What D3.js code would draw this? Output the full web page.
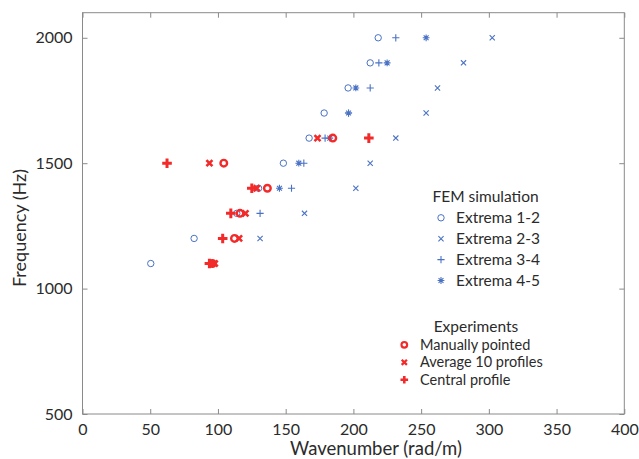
<!DOCTYPE html>
<html><head><meta charset="utf-8">
<script src="https://cdn.jsdelivr.net/npm/d3@7"></script>
<style>
html,body{margin:0;padding:0;background:#fff;}
svg{display:block;font-family:Lato, "Open Sans", sans-serif;}
</style></head>
<body>
<svg id="chart" width="639" height="459"></svg>
<script>
// ---- data ----
const freqFEM = [1100,1200,1300,1400,1500,1600,1700,1800,1900,2000];
const ext12 = [50.4,82.4,113.9,130,148.3,167.3,178.4,196.1,212.4,218.3];
const freqExt23 = [1200,1300,1400,1500,1600,1700,1800,1900,2000];
const ext23 = [131.1,163.9,201.8,212.4,231.3,253.7,262.1,281.3,302.5];
const freqExt34 = [1300,1400,1500,1600,1700,1800,1900,2000];
const ext34 = [131.1,154.3,163.4,179.1,196.4,212.4,218.8,231.3];
const freqExt45 = [1400,1500,1600,1700,1800,1900,2000];
const ext45 = [145.4,159.7,182.6,196.4,201.8,224.9,253.7];
const freqExp = [1100,1200,1300,1400,1500,1600];
const manual = [95.9,112.2,116.3,136.5,104.3,184.8];
const avg10 = [97.6,115.6,120.3,128.6,93.7,173.5];
const central = [93.7,103.5,109.5,125.0,62.4,211.4];
const xTicks = [0,50,100,150,200,250,300,350,400];
const yTicks = [500,1000,1500,2000];
const femLabels = ["Extrema 1-2","Extrema 2-3","Extrema 3-4","Extrema 4-5"];
const expLabels = ["Manually pointed","Average 10 profiles","Central profile"];

const svg = d3.select("#chart");
const x = d3.scaleLinear().domain([0,400]).range([82.5,624.3]);
const y = d3.scaleLinear().domain([500,2100]).range([414,12.7]);
const axisCol = "#8a8a8a", textCol = "#2b2b2b";
const blue = "#4a72c4", red = "#f22a2a";

// frame
svg.append("rect").attr("x",x(0)).attr("y",y(2100)).attr("width",x(400)-x(0)).attr("height",y(500)-y(2100))
  .attr("fill","none").attr("stroke",axisCol).attr("stroke-width",1);

function styleAxis(g){
  g.select(".domain").remove();
  g.selectAll(".tick line").attr("stroke",axisCol);
  g.selectAll(".tick text").attr("fill",textCol).attr("font-size","16px").attr("font-family","Lato, sans-serif");
}
svg.append("g").attr("transform",`translate(0,${y(500)})`)
  .call(d3.axisBottom(x).tickValues(xTicks).tickSize(-5).tickPadding(10).tickFormat(d3.format("d")))
  .call(styleAxis);
svg.append("g").attr("transform",`translate(0,${y(2100)})`)
  .call(d3.axisTop(x).tickValues(xTicks).tickSize(-5).tickFormat(""))
  .call(styleAxis);
svg.append("g").attr("transform",`translate(${x(0)},0)`)
  .call(d3.axisLeft(y).tickValues(yTicks).tickSize(-5).tickPadding(10).tickFormat(d3.format("d")))
  .call(styleAxis);
svg.append("g").attr("transform",`translate(${x(400)},0)`)
  .call(d3.axisRight(y).tickValues(yTicks).tickSize(-5).tickFormat(""))
  .call(styleAxis);

// axis labels
svg.append("text").attr("x",376).attr("y",455).attr("text-anchor","middle")
  .attr("font-size","18.5px").attr("fill",textCol).text("Wavenumber (rad/m)");
svg.append("text").attr("transform","translate(26,228) rotate(-90)").attr("text-anchor","middle")
  .attr("font-size","18px").attr("fill",textCol).text("Frequency (Hz)");

// marker path makers
function circleP(r){ return d3.symbol().type(d3.symbolCircle).size(Math.PI*r*r)(); }
function plusP(h){ return `M${-h},0H${h}M0,${-h}V${h}`; }
function timesP(h){ return `M${-h},${-h}L${h},${h}M${-h},${h}L${h},${-h}`; }
function starP(h){ const d=h*0.72; return plusP(h)+timesP(d); }

const markers = {
  c:{p:circleP(3.2), col:blue, w:1},
  x:{p:timesP(2.6), col:blue, w:1.1},
  p:{p:plusP(3.6), col:blue, w:1.1},
  s:{p:starP(3.4), col:blue, w:1.1},
  rc:{p:circleP(3.3), col:red, w:2.4},
  rx:{p:timesP(3.0), col:red, w:2.6},
  rp:{p:plusP(4.8), col:red, w:3}
};

function plotSeries(xs, ys, m){
  const mk = markers[m];
  svg.append("g").selectAll("path").data(xs.map((v,i)=>[v,ys[i]])).join("path")
    .attr("d",mk.p).attr("transform",d=>`translate(${x(d[0])},${y(d[1])})`)
    .attr("fill","none").attr("stroke",mk.col).attr("stroke-width",mk.w);
}
plotSeries(ext12, freqFEM, "c");
plotSeries(ext23, freqExt23, "x");
plotSeries(ext34, freqExt34, "p");
plotSeries(ext45, freqExt45, "s");
plotSeries(manual, freqExp, "rc");
plotSeries(avg10, freqExp, "rx");
plotSeries(central, freqExp, "rp");

// legends
const lg = svg.append("g").attr("font-size","15.5px").attr("fill",textCol);
lg.append("text").attr("x",485.5).attr("y",201.7).attr("text-anchor","middle").text("FEM simulation");
const femKeys = ["c","x","p","s"];
femLabels.forEach((t,i)=>{
  const yy = 223.3 + i*20.9;
  const mk = markers[femKeys[i]];
  lg.append("path").attr("d",mk.p).attr("transform",`translate(441,${yy-5.5})`)
    .attr("fill","none").attr("stroke",mk.col).attr("stroke-width",mk.w);
  lg.append("text").attr("x",456).attr("y",yy).text(t);
});
lg.append("text").attr("x",476).attr("y",331.7).attr("text-anchor","middle").text("Experiments");
const expKeys = ["rc","rx","rp"];
const expSmall = {
  rc:{p:circleP(2.8), w:2.2}, rx:{p:timesP(2.6), w:2.3}, rp:{p:plusP(3.8), w:2.6}
};
expLabels.forEach((t,i)=>{
  const yy = 349.8 + i*17.5;
  const mk = expSmall[expKeys[i]];
  lg.append("path").attr("d",mk.p).attr("transform",`translate(404.3,${yy-5})`)
    .attr("fill","none").attr("stroke",red).attr("stroke-width",mk.w);
  lg.append("text").attr("x",420).attr("y",yy).attr("font-size","14.5px").text(t);
});
</script>
</body></html>
